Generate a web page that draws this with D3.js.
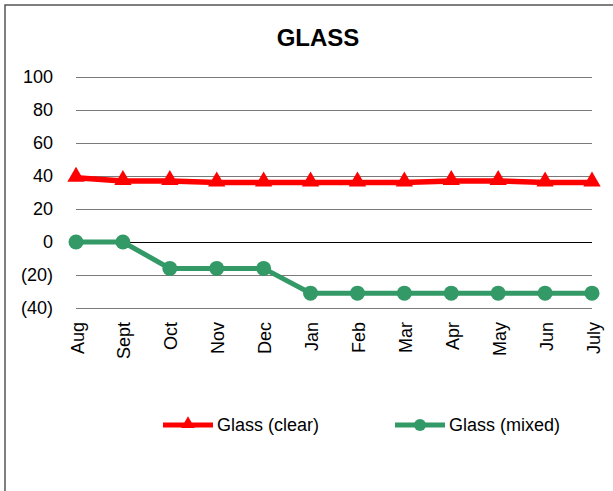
<!DOCTYPE html>
<html>
<head>
<meta charset="utf-8">
<script src="https://cdn.jsdelivr.net/npm/d3@7"></script>
<style>
  body { margin: 0; background: #fff; }
  svg text { font-family: "Liberation Sans", Arial, sans-serif; }
</style>
</head>
<body>
<div id="chart"></div>
<script>
const months = ["Aug", "Sept", "Oct", "Nov", "Dec", "Jan", "Feb", "Mar", "Apr", "May", "Jun", "July"];
const clearValues = [39, 37, 37, 36, 36, 36, 36, 36, 37, 37, 36, 36];
const mixedValues = [0, 0, -16, -16, -16, -31, -31, -31, -31, -31, -31, -31];
const yTicks = [100, 80, 60, 40, 20, 0, -20, -40];

const width = 613, height = 491;
const margin = { top: 77, right: 21, bottom: 183, left: 76 };
const innerW = width - margin.left - margin.right;
const innerH = height - margin.top - margin.bottom;

const svg = d3.select("#chart").append("svg")
    .attr("width", width)
    .attr("height", height);

// chart frame (runs off the right and bottom edges)
svg.append("rect")
    .attr("x", 5).attr("y", 5)
    .attr("width", width + 10).attr("height", height + 10)
    .attr("fill", "none")
    .attr("stroke", "#555")
    .attr("stroke-width", 1.5);

svg.append("text")
    .attr("x", 318).attr("y", 46)
    .attr("text-anchor", "middle")
    .attr("font-size", 24)
    .attr("font-weight", "bold")
    .text("GLASS");

const g = svg.append("g").attr("transform", `translate(${margin.left},${margin.top})`);

const x = d3.scalePoint().domain(months).range([0, innerW]);
const y = d3.scaleLinear().domain([-40, 100]).range([innerH, 0]);

const fmt = d => d < 0 ? `(${Math.abs(d)})` : `${d}`;

// gridlines + y labels
g.append("g")
    .call(d3.axisLeft(y).tickValues(yTicks).tickSize(-innerW).tickFormat(fmt).tickPadding(23))
    .call(a => a.select(".domain").remove())
    .call(a => a.selectAll("line").attr("stroke", d => d === 0 ? "#000" : "#7a7a7a").attr("stroke-width", 1))
    .call(a => a.selectAll("text").attr("font-size", 18).attr("fill", "#000")
        .attr("font-family", "'Liberation Sans', Arial, sans-serif"));

// x labels
g.append("g")
    .attr("transform", `translate(0,${innerH})`)
    .call(d3.axisBottom(x).tickSize(0).tickPadding(0))
    .call(a => a.select(".domain").remove())
    .call(a => a.selectAll("text")
        .attr("font-size", 18)
        .attr("fill", "#000")
        .attr("font-family", "'Liberation Sans', Arial, sans-serif")
        .attr("text-anchor", "end")
        .attr("dy", null)
        .attr("transform", "translate(7,14) rotate(-90)"));

const line = d3.line().x((d, i) => x(months[i])).y(d => y(d));
const red = "#ff0000", green = "#339966";
const tri = d3.symbol().type(d3.symbolTriangle).size(130);

g.append("path").datum(mixedValues)
    .attr("d", line).attr("fill", "none")
    .attr("stroke", green).attr("stroke-width", 5);
g.selectAll(".mixed").data(mixedValues).enter().append("circle")
    .attr("class", "mixed")
    .attr("cx", (d, i) => x(months[i])).attr("cy", d => y(d))
    .attr("r", 7.5).attr("fill", green);

g.append("path").datum(clearValues)
    .attr("d", line).attr("fill", "none")
    .attr("stroke", red).attr("stroke-width", 5.5);
g.selectAll(".clear").data(clearValues).enter().append("path")
    .attr("class", "clear")
    .attr("transform", (d, i) => `translate(${x(months[i])},${y(d) - 1})`)
    .attr("d", tri).attr("fill", red);

// legend
const legend = svg.append("g").attr("transform", "translate(0,425)");
const items = [
    { label: "Glass (clear)", color: red, x: 163, marker: "tri" },
    { label: "Glass (mixed)", color: green, x: 395, marker: "circle" }
];
items.forEach(it => {
    legend.append("line")
        .attr("x1", it.x).attr("x2", it.x + 50)
        .attr("stroke", it.color).attr("stroke-width", 5);
    if (it.marker === "tri") {
        legend.append("path")
            .attr("transform", `translate(${it.x + 25},-1)`)
            .attr("d", d3.symbol().type(d3.symbolTriangle).size(80)).attr("fill", it.color);
    } else {
        legend.append("circle").attr("cx", it.x + 25).attr("r", 6).attr("fill", it.color);
    }
    legend.append("text")
        .attr("x", it.x + 54).attr("y", 6)
        .attr("font-size", 18)
        .text(it.label);
});
</script>
</body>
</html>
